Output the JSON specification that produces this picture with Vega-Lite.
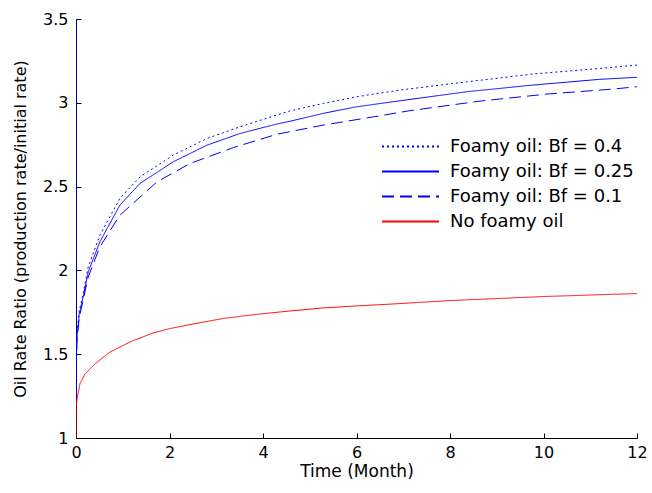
{
  "$schema": "https://vega.github.io/schema/vega-lite/v6.json",
  "width": 561,
  "height": 419,
  "autosize": {"type": "none"},
  "padding": {"left": 76, "top": 19, "right": 15, "bottom": 55},
  "background": "white",
  "config": {
    "view": {"stroke": null},
    "font": "DejaVu Sans",
    "axis": {
      "grid": false,
      "domainColor": "#000000",
      "tickColor": "#000000",
      "labelColor": "#000000",
      "titleColor": "#000000",
      "labelFont": "DejaVu Sans",
      "titleFont": "DejaVu Sans",
      "labelFontSize": 16,
      "titleFontSize": 16,
      "titleFontWeight": "normal",
      "domainWidth": 1,
      "tickWidth": 1
    },
    "legend": {
      "labelFont": "DejaVu Sans",
      "labelFontSize": 18,
      "labelColor": "#000000",
      "padding": 0
    }
  },
  "data": {
    "values": [
      {"s": "Foamy oil: Bf = 0.25", "i": 0, "t": 0, "v": 3.5},
      {"s": "Foamy oil: Bf = 0.25", "i": 1, "t": 0, "v": 1.19},
      {"s": "Foamy oil: Bf = 0.25", "i": 2, "t": 0.005, "v": 1.45},
      {"s": "Foamy oil: Bf = 0.25", "i": 3, "t": 0.02, "v": 1.6},
      {"s": "Foamy oil: Bf = 0.25", "i": 4, "t": 0.07, "v": 1.74},
      {"s": "Foamy oil: Bf = 0.25", "i": 5, "t": 0.16, "v": 1.85},
      {"s": "Foamy oil: Bf = 0.25", "i": 6, "t": 0.26, "v": 1.99},
      {"s": "Foamy oil: Bf = 0.25", "i": 7, "t": 0.51, "v": 2.17},
      {"s": "Foamy oil: Bf = 0.25", "i": 8, "t": 0.94, "v": 2.39},
      {"s": "Foamy oil: Bf = 0.25", "i": 9, "t": 1.37, "v": 2.519},
      {"s": "Foamy oil: Bf = 0.25", "i": 10, "t": 2.08, "v": 2.648},
      {"s": "Foamy oil: Bf = 0.25", "i": 11, "t": 2.8, "v": 2.747},
      {"s": "Foamy oil: Bf = 0.25", "i": 12, "t": 3.51, "v": 2.817},
      {"s": "Foamy oil: Bf = 0.25", "i": 13, "t": 4.29, "v": 2.873},
      {"s": "Foamy oil: Bf = 0.25", "i": 14, "t": 4.58, "v": 2.89},
      {"s": "Foamy oil: Bf = 0.25", "i": 15, "t": 5.29, "v": 2.937},
      {"s": "Foamy oil: Bf = 0.25", "i": 16, "t": 6.0, "v": 2.976},
      {"s": "Foamy oil: Bf = 0.25", "i": 17, "t": 6.93, "v": 3.012},
      {"s": "Foamy oil: Bf = 0.25", "i": 18, "t": 8.36, "v": 3.066},
      {"s": "Foamy oil: Bf = 0.25", "i": 19, "t": 9.78, "v": 3.106},
      {"s": "Foamy oil: Bf = 0.25", "i": 20, "t": 11.2, "v": 3.14},
      {"s": "Foamy oil: Bf = 0.25", "i": 21, "t": 12, "v": 3.152},

      {"s": "Foamy oil: Bf = 0.4", "i": 0, "t": 0.005, "v": 1.45},
      {"s": "Foamy oil: Bf = 0.4", "i": 1, "t": 0.02, "v": 1.62},
      {"s": "Foamy oil: Bf = 0.4", "i": 2, "t": 0.07, "v": 1.76},
      {"s": "Foamy oil: Bf = 0.4", "i": 3, "t": 0.16, "v": 1.87},
      {"s": "Foamy oil: Bf = 0.4", "i": 4, "t": 0.26, "v": 2.02},
      {"s": "Foamy oil: Bf = 0.4", "i": 5, "t": 0.51, "v": 2.21},
      {"s": "Foamy oil: Bf = 0.4", "i": 6, "t": 0.94, "v": 2.43},
      {"s": "Foamy oil: Bf = 0.4", "i": 7, "t": 1.37, "v": 2.558},
      {"s": "Foamy oil: Bf = 0.4", "i": 8, "t": 2.08, "v": 2.688},
      {"s": "Foamy oil: Bf = 0.4", "i": 9, "t": 2.8, "v": 2.787},
      {"s": "Foamy oil: Bf = 0.4", "i": 10, "t": 3.51, "v": 2.857},
      {"s": "Foamy oil: Bf = 0.4", "i": 11, "t": 4.29, "v": 2.927},
      {"s": "Foamy oil: Bf = 0.4", "i": 12, "t": 4.58, "v": 2.952},
      {"s": "Foamy oil: Bf = 0.4", "i": 13, "t": 5.29, "v": 2.996},
      {"s": "Foamy oil: Bf = 0.4", "i": 14, "t": 6.0, "v": 3.036},
      {"s": "Foamy oil: Bf = 0.4", "i": 15, "t": 6.93, "v": 3.076},
      {"s": "Foamy oil: Bf = 0.4", "i": 16, "t": 8.36, "v": 3.125},
      {"s": "Foamy oil: Bf = 0.4", "i": 17, "t": 9.78, "v": 3.172},
      {"s": "Foamy oil: Bf = 0.4", "i": 18, "t": 11.2, "v": 3.205},
      {"s": "Foamy oil: Bf = 0.4", "i": 19, "t": 12, "v": 3.225},

      {"s": "Foamy oil: Bf = 0.1", "i": 0, "t": 0.005, "v": 1.42},
      {"s": "Foamy oil: Bf = 0.1", "i": 1, "t": 0.02, "v": 1.58},
      {"s": "Foamy oil: Bf = 0.1", "i": 2, "t": 0.07, "v": 1.72},
      {"s": "Foamy oil: Bf = 0.1", "i": 3, "t": 0.16, "v": 1.83},
      {"s": "Foamy oil: Bf = 0.1", "i": 4, "t": 0.26, "v": 1.96},
      {"s": "Foamy oil: Bf = 0.1", "i": 5, "t": 0.51, "v": 2.14},
      {"s": "Foamy oil: Bf = 0.1", "i": 6, "t": 0.94, "v": 2.33},
      {"s": "Foamy oil: Bf = 0.1", "i": 7, "t": 1.73, "v": 2.528},
      {"s": "Foamy oil: Bf = 0.1", "i": 8, "t": 2.44, "v": 2.638},
      {"s": "Foamy oil: Bf = 0.1", "i": 9, "t": 3.37, "v": 2.733},
      {"s": "Foamy oil: Bf = 0.1", "i": 10, "t": 4.29, "v": 2.812},
      {"s": "Foamy oil: Bf = 0.1", "i": 11, "t": 5.29, "v": 2.867},
      {"s": "Foamy oil: Bf = 0.1", "i": 12, "t": 6.36, "v": 2.916},
      {"s": "Foamy oil: Bf = 0.1", "i": 13, "t": 7.14, "v": 2.953},
      {"s": "Foamy oil: Bf = 0.1", "i": 14, "t": 8.64, "v": 3.01},
      {"s": "Foamy oil: Bf = 0.1", "i": 15, "t": 10.07, "v": 3.052},
      {"s": "Foamy oil: Bf = 0.1", "i": 16, "t": 11.49, "v": 3.082},
      {"s": "Foamy oil: Bf = 0.1", "i": 17, "t": 12, "v": 3.096},

      {"s": "No foamy oil", "i": 0, "t": 0, "v": 1.0},
      {"s": "No foamy oil", "i": 1, "t": 0, "v": 1.19},
      {"s": "No foamy oil", "i": 2, "t": 0.03, "v": 1.245},
      {"s": "No foamy oil", "i": 3, "t": 0.086, "v": 1.325},
      {"s": "No foamy oil", "i": 4, "t": 0.19, "v": 1.38},
      {"s": "No foamy oil", "i": 5, "t": 0.41, "v": 1.444},
      {"s": "No foamy oil", "i": 6, "t": 0.73, "v": 1.513},
      {"s": "No foamy oil", "i": 7, "t": 1.155, "v": 1.573},
      {"s": "No foamy oil", "i": 8, "t": 1.65, "v": 1.627},
      {"s": "No foamy oil", "i": 9, "t": 2.01, "v": 1.653},
      {"s": "No foamy oil", "i": 10, "t": 2.44, "v": 1.677},
      {"s": "No foamy oil", "i": 11, "t": 3.15, "v": 1.713},
      {"s": "No foamy oil", "i": 12, "t": 3.87, "v": 1.738},
      {"s": "No foamy oil", "i": 13, "t": 4.58, "v": 1.758},
      {"s": "No foamy oil", "i": 14, "t": 5.29, "v": 1.776},
      {"s": "No foamy oil", "i": 15, "t": 6.0, "v": 1.788},
      {"s": "No foamy oil", "i": 16, "t": 6.68, "v": 1.798},
      {"s": "No foamy oil", "i": 17, "t": 8, "v": 1.82},
      {"s": "No foamy oil", "i": 18, "t": 10, "v": 1.844},
      {"s": "No foamy oil", "i": 19, "t": 12, "v": 1.862}
    ]
  },
  "mark": {"type": "line", "strokeWidth": 1, "clip": true},
  "encoding": {
    "x": {
      "field": "t",
      "type": "quantitative",
      "scale": {"domain": [0, 12], "nice": false},
      "axis": {"values": [0, 2, 4, 6, 8, 10, 12], "title": "Time (Month)", "ticks": true, "tickSize": -5, "labelPadding": 11, "titlePadding": 3, "labelFlush": false, "titleFontSize": 17}
    },
    "y": {
      "field": "v",
      "type": "quantitative",
      "scale": {"domain": [1, 3.5], "nice": false, "zero": false},
      "axis": {"values": [1, 1.5, 2, 2.5, 3, 3.5], "labelExpr": "toString(datum.value)", "title": "Oil Rate Ratio (production rate/initial rate)", "ticks": true, "tickSize": -5, "labelPadding": 13, "titlePadding": 14, "labelFlush": false}
    },
    "color": {
      "field": "s",
      "type": "nominal",
      "scale": {
        "domain": ["Foamy oil: Bf = 0.4", "Foamy oil: Bf = 0.25", "Foamy oil: Bf = 0.1", "No foamy oil"],
        "range": ["#0000ff", "#0000ff", "#0000ff", "#ff0000"]
      },
      "legend": {
        "title": null,
        "orient": "none",
        "legendX": 322,
        "legendY": 115,
        "symbolType": "M-2.5,0H2.5",
        "symbolSize": 520,
        "symbolStrokeWidth": 2,
        "labelOffset": 27,
        "labelLimit": 0,
        "rowPadding": 3
      }
    },
    "strokeDash": {
      "field": "s",
      "type": "nominal",
      "scale": {
        "domain": ["Foamy oil: Bf = 0.4", "Foamy oil: Bf = 0.25", "Foamy oil: Bf = 0.1", "No foamy oil"],
        "range": [[2, 3], [1, 0], [12, 6], [1, 0]]
      },
      "legend": {
        "title": null,
        "orient": "none",
        "legendX": 322,
        "legendY": 115,
        "symbolType": "M-2.5,0H2.5",
        "symbolSize": 520,
        "symbolStrokeWidth": 2,
        "labelOffset": 27,
        "labelLimit": 0,
        "rowPadding": 3
      }
    },
    "order": {"field": "i", "type": "quantitative"}
  }
}
